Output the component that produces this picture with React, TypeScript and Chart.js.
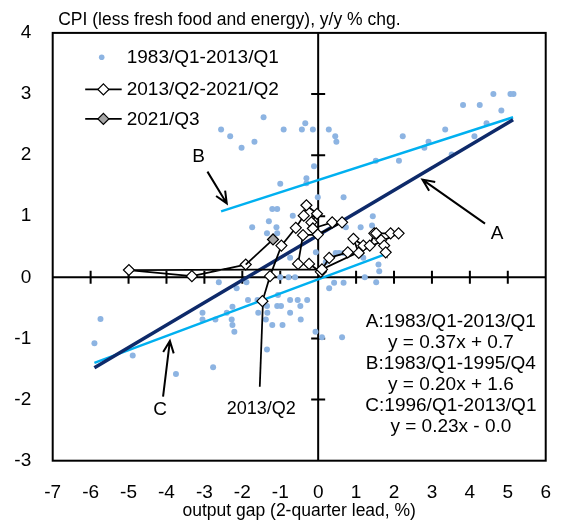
import React, { useEffect, useRef } from 'react';
import { Chart, registerables } from 'chart.js';

Chart.register(...registerables);

const FONT = '"Liberation Sans", Arial, sans-serif';

// ---------- text ----------
const titleText = 'CPI (less fresh food and energy), y/y % chg.';
const xAxisTitle = 'output gap (2-quarter lead, %)';
const xTickLabels = ['-7', '-6', '-5', '-4', '-3', '-2', '-1', '0', '1', '2', '3', '4', '5', '6'];
const xTickValues = [-7, -6, -5, -4, -3, -2, -1, 0, 1, 2, 3, 4, 5, 6];
const yTickLabels = ['-3', '-2', '-1', '0', '1', '2', '3', '4'];
const yTickValues = [-3, -2, -1, 0, 1, 2, 3, 4];
const legendLabels = ['1983/Q1-2013/Q1', '2013/Q2-2021/Q2', '2021/Q3'];
const equationLines = [
  'A:1983/Q1-2013/Q1',
  'y = 0.37x + 0.7',
  'B:1983/Q1-1995/Q4',
  'y = 0.20x + 1.6',
  'C:1996/Q1-2013/Q1',
  'y = 0.23x - 0.0',
];

// ---------- data ----------
// 1983/Q1-2013/Q1 (output gap, CPI)
const histGap = [
  4.62, 5.07, 5.15, 3.82, 4.26, 4.83, 4.44, 4.12, 3.35, 2.23, 2.91, 2.80, 3.52, 1.52, 2.13,
  -0.43, -0.34, -0.14, 0.28, 0.45, 0.48, -0.11, -0.31, -0.31,
  -2.56, -2.32, -1.44, -2.02, -1.68, -0.91,
  -1.0, -0.01, -1.21, -1.08, -0.67, -1.30, -1.74, -1.10, -1.35, -1.08, -0.74, -0.06,
  0.67, 1.12, 1.44, 1.42, 0.73,
  0.46, 0.55, 0.67, 0.20, 1.19, 1.59, -2.62, -2.15, -1.89, -1.0, -0.78, -0.61, 0.29, 0.42, 0.67, 1.23, 1.61, 1.53,
  -1.85, -1.60, -1.35, -1.08, -0.98, -0.74, -0.54, -0.29, -3.05, -2.41, -1.58, -0.74, -0.47,
  -3.05, -2.71, -2.28, -1.38, -0.46, -2.26, -1.21, -0.94, -2.21, -0.07, 0.10, 0.63, -1.35,
  -5.74, -5.90, -4.89, -3.75, -2.77, -2.26, -1.06, -1.34,
];
const histCpi = [
  3.00, 3.00, 3.00, 2.82, 2.82, 2.73, 2.52, 2.31, 2.42, 2.31, 2.22, 2.12, 2.01, 1.91, 1.91,
  2.42, 2.52, 2.42, 2.42, 2.31, 2.22, 1.82, 1.62, 1.54,
  2.42, 2.31, 2.62, 2.12, 2.22, 2.42,
  1.53, 1.31, 1.12, 1.12, 1.01, 0.92, 0.82, 0.82, 0.72, 0.72, 0.32, 0.41,
  1.31, 0.82, 1.0, 0.85, 0.82,
  0.40, 0.40, 0.40, 0.25, 0.32, 0.21, -0.08, -0.18, -0.08, 0.0, 0.0, 0.0, -0.18, -0.09, -0.09, 0.0, 0.10, -0.08,
  -0.37, -0.37, -0.47, -0.47, -0.47, -0.37, -0.37, -0.37, -0.58, -0.58, -0.58, -0.58, -0.47,
  -0.69, -0.69, -0.69, -0.69, -0.69, -0.78, -0.78, -0.78, -0.89, -0.89, -0.98, -0.98, -1.18,
  -0.68, -1.08, -1.28, -1.58, -1.47, -0.48, -0.29, -0.58,
];

// 2013/Q2-2021/Q2
const recentGap = [
  -1.47, -1.27, -0.97, -0.59, -0.38, -0.31, -0.03, -0.18, -0.14, 0.37, 0.63, -0.01, -0.40,
  -0.53, -0.24, 0.07, 0.29, 0.78, 1.07, 0.93, 1.19, 1.36, 1.48, 1.66, 1.74, 1.78, 1.53,
  1.91, 2.12, 0.10, -4.99, -3.33, -1.91,
];
const recentCpi = [
  -0.39, 0.02, 0.52, 0.81, 1.01, 1.18, 1.04, 0.90, 0.80, 0.90, 0.90, 0.70, 0.69,
  0.22, 0.22, 0.09, 0.32, 0.41, 0.40, 0.63, 0.52, 0.52, 0.72, 0.61, 0.52, 0.41, 0.72,
  0.72, 0.72, 0.13, 0.12, 0.02, 0.21,
];

// 2021/Q3 (joined from 2021/Q2)
const latestGap = [-1.91, -1.19];
const latestCpi = [0.21, 0.62];

// fitted lines (end points)
const lineAGap = [-5.9, 5.14];
const lineACpi = [-1.48, 2.58];
const lineBGap = [-2.56, 5.14];
const lineBCpi = [1.08, 2.62];
const lineCGap = [-5.9, 1.78];
const lineCCpi = [-1.40, 0.38];

// annotation anchors (data space)
const arrowA = { from: [4.4, 0.88], to: [2.75, 1.6] };
const arrowB = { from: [-2.92, 1.73], to: [-2.41, 1.21] };
const arrowC = { from: [-4.09, -1.95], to: [-3.91, -1.04] };
const labelA = { text: 'A', at: [4.72, 0.71] };
const labelB = { text: 'B', at: [-3.15, 1.97] };
const labelC = { text: 'C', at: [-4.17, -2.17] };
const q2Pointer = { from: [-1.46, -0.47], to: [-1.54, -1.79] };
const q2Label = { text: '2013/Q2', at: [-1.5, -2.15] };
const equationAnchor = [3.5, -0.82];

const pts = (xs: number[], ys: number[]) => xs.map((x, i) => ({ x, y: ys[i] }));

const DOT = '#8db4e2';
const NAVY = '#0e2a6a';
const CYAN = '#00b0f0';

function drawArrow(ctx: CanvasRenderingContext2D, x1: number, y1: number, x2: number, y2: number) {
  const ang = Math.atan2(y2 - y1, x2 - x1);
  const head = 13;
  const spread = 0.42;
  ctx.beginPath();
  ctx.moveTo(x1, y1);
  ctx.lineTo(x2, y2);
  ctx.moveTo(x2 - head * Math.cos(ang - spread), y2 - head * Math.sin(ang - spread));
  ctx.lineTo(x2, y2);
  ctx.lineTo(x2 - head * Math.cos(ang + spread), y2 - head * Math.sin(ang + spread));
  ctx.stroke();
}

const decorPlugin = {
  id: 'decor',
  beforeDatasetsDraw(chart: any) {
    const { ctx, chartArea: a, scales } = chart;
    const xs = scales.x;
    const ys = scales.y;
    const x0 = xs.getPixelForValue(0);
    const y0 = ys.getPixelForValue(0);
    ctx.save();
    ctx.strokeStyle = '#000';
    ctx.lineWidth = 2;
    ctx.beginPath();
    ctx.moveTo(a.left, y0);
    ctx.lineTo(a.right, y0);
    ctx.moveTo(x0, a.top);
    ctx.lineTo(x0, a.bottom);
    xTickValues.forEach((v) => {
      if (v === xTickValues[0] || v === xTickValues[xTickValues.length - 1]) return;
      const px = xs.getPixelForValue(v);
      ctx.moveTo(px, y0 - 6.5);
      ctx.lineTo(px, y0 + 6.5);
    });
    yTickValues.forEach((v) => {
      if (v === yTickValues[0] || v === yTickValues[yTickValues.length - 1]) return;
      const py = ys.getPixelForValue(v);
      ctx.moveTo(x0 - 7, py);
      ctx.lineTo(x0 + 7, py);
    });
    ctx.stroke();
    ctx.restore();
  },
  afterDatasetsDraw(chart: any) {
    const { ctx, chartArea: a, scales } = chart;
    const xs = scales.x;
    const ys = scales.y;
    const P = (p: number[]) => [xs.getPixelForValue(p[0]), ys.getPixelForValue(p[1])];
    ctx.save();
    // frame
    ctx.strokeStyle = '#000';
    ctx.lineWidth = 2;
    ctx.strokeRect(a.left, a.top, a.right - a.left, a.bottom - a.top);

    // arrows
    ctx.lineWidth = 2;
    ctx.lineCap = 'butt';
    [arrowA, arrowB, arrowC].forEach((ar) => {
      const [x1, y1] = P(ar.from);
      const [x2, y2] = P(ar.to);
      drawArrow(ctx, x1, y1, x2, y2);
    });
    {
      const [x1, y1] = P(q2Pointer.from);
      const [x2, y2] = P(q2Pointer.to);
      ctx.lineWidth = 1.75;
      ctx.beginPath();
      ctx.moveTo(x1, y1);
      ctx.lineTo(x2, y2);
      ctx.stroke();
    }

    // labels
    ctx.fillStyle = '#000';
    ctx.textAlign = 'center';
    ctx.textBaseline = 'middle';
    ctx.font = `19px ${FONT}`;
    [labelA, labelB, labelC].forEach((l) => {
      const [x, y] = P(l.at);
      ctx.fillText(l.text, x, y);
    });
    ctx.font = `18px ${FONT}`;
    {
      const [x, y] = P(q2Label.at);
      ctx.fillText(q2Label.text, x, y);
    }

    // equations
    ctx.font = `19px ${FONT}`;
    ctx.textBaseline = 'alphabetic';
    const [ex, ey] = P(equationAnchor);
    equationLines.forEach((t, i) => {
      ctx.fillText(t, ex, ey + i * 21);
    });

    // legend
    const lx = a.left;
    const ly = a.top;
    const rows = [24.4, 56.5, 86];
    ctx.textAlign = 'left';
    ctx.textBaseline = 'middle';
    ctx.font = `19px ${FONT}`;
    legendLabels.forEach((t, i) => {
      ctx.fillText(t, lx + 74, ly + rows[i] + 0.5);
    });
    // row 1 marker
    ctx.fillStyle = DOT;
    ctx.beginPath();
    ctx.arc(lx + 49, ly + rows[0], 2.8, 0, Math.PI * 2);
    ctx.fill();
    // rows 2-3: line + diamond
    const fills = ['#ffffff', '#a6a6a6'];
    [1, 2].forEach((r, k) => {
      const cy = ly + rows[r];
      ctx.strokeStyle = '#000';
      ctx.lineWidth = 1.75;
      ctx.beginPath();
      ctx.moveTo(lx + 32.5, cy);
      ctx.lineTo(lx + 69, cy);
      ctx.stroke();
      const cx = lx + 50.7;
      const rr = 5.5;
      ctx.beginPath();
      ctx.moveTo(cx - rr, cy);
      ctx.lineTo(cx, cy - rr);
      ctx.lineTo(cx + rr, cy);
      ctx.lineTo(cx, cy + rr);
      ctx.closePath();
      ctx.fillStyle = fills[k];
      ctx.fill();
      ctx.lineWidth = 1.2;
      ctx.stroke();
    });

    // title & axis title
    ctx.fillStyle = '#000';
    ctx.textAlign = 'left';
    ctx.textBaseline = 'alphabetic';
    ctx.font = `17.5px ${FONT}`;
    ctx.fillText(titleText, a.left + 5.5, 25);
    ctx.textAlign = 'center';
    ctx.fillText(xAxisTitle, (a.left + a.right) / 2, 516);
    ctx.restore();
  },
};

export default function App() {
  const ref = useRef<HTMLCanvasElement | null>(null);
  useEffect(() => {
    if (!ref.current) return;
    const chart = new Chart(ref.current, {
      type: 'scatter',
      data: {
        datasets: [
          {
            label: legendLabels[2],
            data: pts(latestGap, latestCpi),
            showLine: true,
            borderColor: '#000',
            borderWidth: 1.75,
            pointStyle: 'rectRot',
            pointRadius: [0, 5.5],
            pointBackgroundColor: '#a6a6a6',
            pointBorderColor: '#000',
            pointBorderWidth: 1.2,
            order: 0,
          },
          {
            label: legendLabels[1],
            data: pts(recentGap, recentCpi),
            showLine: true,
            borderColor: '#000',
            borderWidth: 1.75,
            pointStyle: 'rectRot',
            pointRadius: 5.5,
            pointBackgroundColor: '#ffffff',
            pointBorderColor: '#000',
            pointBorderWidth: 1.2,
            order: 1,
          },
          {
            label: 'A',
            data: pts(lineAGap, lineACpi),
            showLine: true,
            borderColor: NAVY,
            borderWidth: 3.5,
            pointRadius: 0,
            order: 2,
          },
          {
            label: 'B',
            data: pts(lineBGap, lineBCpi),
            showLine: true,
            borderColor: CYAN,
            borderWidth: 2.5,
            pointRadius: 0,
            order: 3,
          },
          {
            label: 'C',
            data: pts(lineCGap, lineCCpi),
            showLine: true,
            borderColor: CYAN,
            borderWidth: 2.5,
            pointRadius: 0,
            order: 4,
          },
          {
            label: legendLabels[0],
            data: pts(histGap, histCpi),
            showLine: false,
            pointRadius: 3,
            pointBackgroundColor: DOT,
            pointBorderColor: DOT,
            pointBorderWidth: 0,
            order: 5,
          },
        ],
      },
      options: {
        responsive: false,
        animation: false,
        events: [],
        layout: { padding: { top: 32.3, right: 12.7, bottom: 0, left: 0 } },
        plugins: { legend: { display: false }, tooltip: { enabled: false }, title: { display: false } },
        scales: {
          x: {
            type: 'linear',
            min: -7,
            max: 6,
            border: { display: false },
            grid: { display: false, drawTicks: false, tickLength: 0 },
            afterFit: (s: any) => { s.height = 61.3; },
            afterBuildTicks: (s: any) => { s.ticks = xTickValues.map((v) => ({ value: v })); },
            ticks: {
              autoSkip: false,
              maxRotation: 0,
              padding: 21,
              color: '#000',
              font: { family: FONT, size: 19 },
              callback: (v: any) => xTickLabels[xTickValues.indexOf(Number(v))] ?? '',
            },
          },
          y: {
            type: 'linear',
            min: -3,
            max: 4,
            border: { display: false },
            grid: { display: false, drawTicks: false, tickLength: 0 },
            afterFit: (s: any) => { s.width = 52.7; },
            afterBuildTicks: (s: any) => { s.ticks = yTickValues.map((v) => ({ value: v })); },
            ticks: {
              autoSkip: false,
              padding: 21.5,
              color: '#000',
              font: { family: FONT, size: 19 },
              callback: (v: any) => yTickLabels[yTickValues.indexOf(Number(v))] ?? '',
            },
          },
        },
      },
      plugins: [decorPlugin],
    });
    return () => chart.destroy();
  }, []);
  return (
    <div style={{ position: 'fixed', left: 0, top: 0, width: 572, height: 522, background: '#fff' }}>
      <canvas ref={ref} width={572} height={522} style={{ display: 'block', width: 572, height: 522 }} />
    </div>
  );
}
